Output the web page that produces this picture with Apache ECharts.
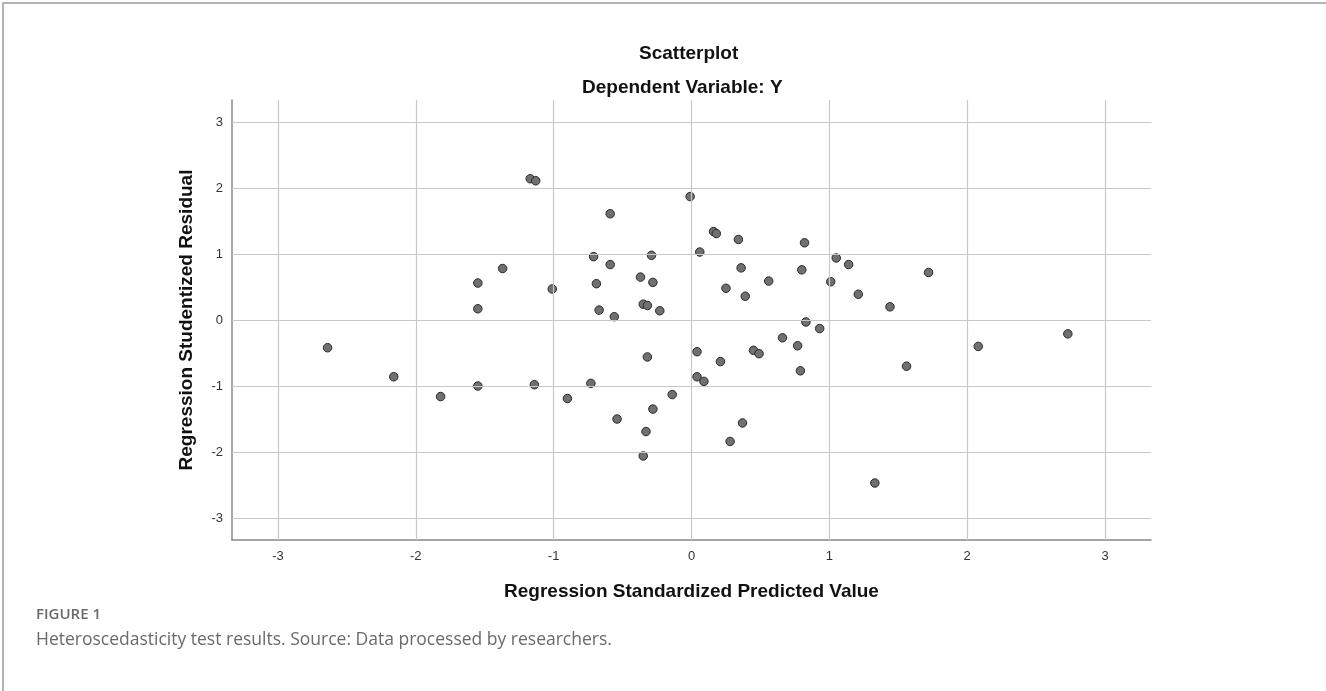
<!DOCTYPE html>
<html>
<head>
<meta charset="utf-8">
<script src="https://cdn.jsdelivr.net/npm/echarts@6/dist/echarts.min.js"></script>
<style>
html,body{margin:0;padding:0;background:#fff;}
#chart{width:1326px;height:691px;}
</style>
</head>
<body>
<div id="chart"></div>
<script>
// Regression Standardized Predicted Value (x) and Regression Studentized Residual (y)
var predicted = [
  -2.64, -2.16, -1.82, -1.55, -1.55, -1.55, -1.37, -1.17, -1.13, -1.14,
  -1.01, -0.90, -0.73, -0.71, -0.69, -0.67, -0.59, -0.59, -0.56, -0.54,
  -0.37, -0.35, -0.32, -0.29, -0.28, -0.23, -0.32, -0.28, -0.33, -0.35,
  -0.14, -0.01, 0.06, 0.04, 0.04, 0.09, 0.16, 0.18, 0.21, 0.25,
  0.28, 0.34, 0.36, 0.37, 0.39, 0.45, 0.49, 0.56, 0.66, 0.77,
  0.79, 0.80, 0.82, 0.83, 0.93, 1.01, 1.05, 1.14, 1.21, 1.33,
  1.44, 1.56, 1.72, 2.08, 2.73
];
var residual = [
  -0.42, -0.86, -1.16, 0.56, 0.17, -1.00, 0.78, 2.14, 2.11, -0.98,
  0.47, -1.19, -0.96, 0.96, 0.55, 0.15, 1.61, 0.84, 0.05, -1.50,
  0.65, 0.24, 0.22, 0.98, 0.57, 0.14, -0.56, -1.35, -1.69, -2.06,
  -1.13, 1.87, 1.03, -0.48, -0.86, -0.93, 1.34, 1.31, -0.63, 0.48,
  -1.84, 1.22, 0.79, -1.56, 0.36, -0.46, -0.51, 0.59, -0.27, -0.39,
  -0.77, 0.76, 1.17, -0.03, -0.13, 0.58, 0.94, 0.84, 0.39, -2.47,
  0.20, -0.70, 0.72, -0.40, -0.21
];
var xTicks = [-3, -2, -1, 0, 1, 2, 3];
var yTicks = [-3, -2, -1, 0, 1, 2, 3];

var points = predicted.map(function (v, i) { return [v, residual[i]]; });
var gridLines = xTicks.map(function (v) { return { xAxis: v }; })
  .concat(yTicks.map(function (v) { return { yAxis: v }; }));

var chart = echarts.init(document.getElementById('chart'), null, { renderer: 'canvas' });
var font = '"Liberation Sans", Arial, sans-serif';
var capFont = '"Open Sans", "Noto Sans", sans-serif';

chart.setOption({
  backgroundColor: '#ffffff',
  animation: false,
  graphic: [
    { type: 'rect', silent: true, z: -10,
      shape: { x: 3, y: 3, width: 1400, height: 760 },
      style: { fill: 'none', stroke: '#9a9a9a', lineWidth: 1.5 } },
    { type: 'text', left: 639, top: 44,
      style: { text: 'Scatterplot', font: 'bold 19px ' + font, fill: '#111' } },
    { type: 'text', left: 582, top: 78,
      style: { text: 'Dependent Variable: Y', font: 'bold 19px ' + font, fill: '#111' } },
    { type: 'text', left: 36, top: 607,
      style: { text: 'FIGURE 1', font: '600 15px ' + capFont, fill: '#6a6a6a' } },
    { type: 'text', left: 36, top: 631,
      style: { text: 'Heteroscedasticity test results. Source: Data processed by researchers.', font: '17.5px ' + capFont, fill: '#6a6a6a' } }
  ],
  grid: { left: 232, top: 100, width: 919, height: 440, containLabel: false },
  xAxis: {
    type: 'value', min: -10 / 3, max: 10 / 3,
    name: 'Regression Standardized Predicted Value',
    nameLocation: 'middle', nameGap: 42,
    nameTextStyle: { fontFamily: font, fontWeight: 'bold', fontSize: 19, color: '#111' },
    axisLine: { show: true, onZero: false, lineStyle: { color: '#888', width: 1.5 } },
    axisTick: { show: false },
    splitLine: { show: false },
    axisLabel: { customValues: xTicks, margin: 10, fontFamily: font, fontSize: 13, color: '#333' }
  },
  yAxis: {
    type: 'value', min: -10 / 3, max: 10 / 3,
    name: 'Regression Studentized Residual',
    nameLocation: 'middle', nameGap: 36,
    nameTextStyle: { fontFamily: font, fontWeight: 'bold', fontSize: 19, color: '#111' },
    axisLine: { show: true, onZero: false, lineStyle: { color: '#888', width: 1.5 } },
    axisTick: { show: false },
    splitLine: { show: false },
    axisLabel: { customValues: yTicks, margin: 9, fontFamily: font, fontSize: 13, color: '#333' }
  },
  series: [
    {
      type: 'scatter', data: [], z: 1, silent: true,
      markLine: {
        silent: true, symbol: ['none', 'none'], label: { show: false },
        lineStyle: { color: '#c8c8c8', width: 1.2, type: 'solid' },
        emphasis: { disabled: true },
        data: gridLines
      }
    },
    {
      type: 'scatter', data: points, z: 3,
      symbol: 'circle', symbolSize: 8.5,
      itemStyle: { color: '#707070', borderColor: '#2a2a2a', borderWidth: 1, opacity: 1 }
    }
  ]
});
</script>
</body>
</html>
